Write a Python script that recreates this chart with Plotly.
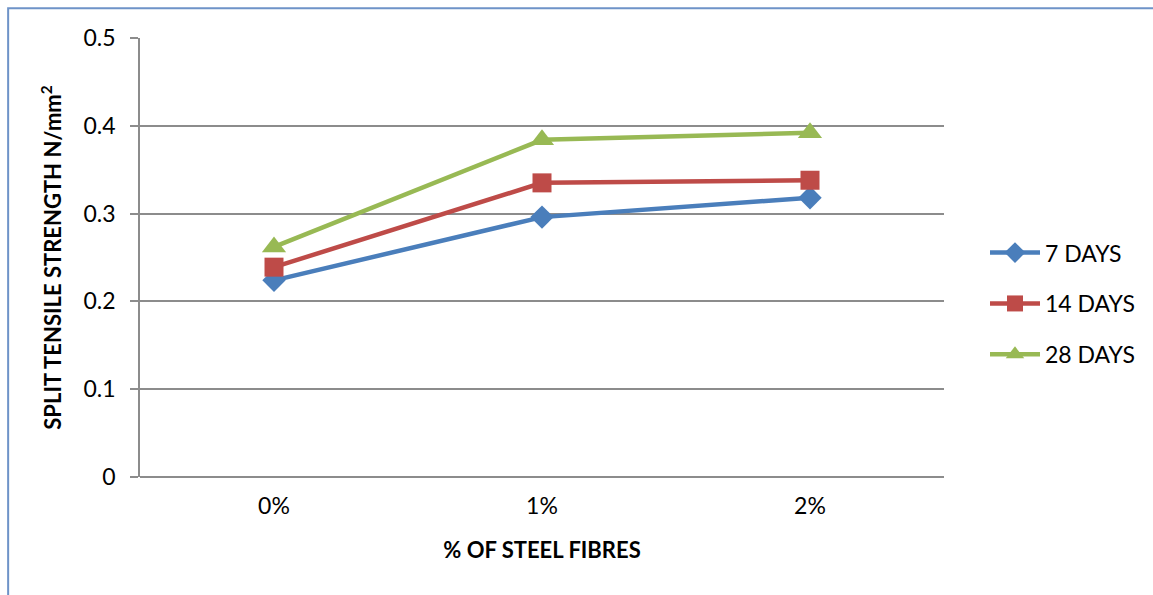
import plotly.graph_objects as go

categories = ["0%", "1%", "2%"]
days_7 = [0.224, 0.296, 0.318]
days_14 = [0.239, 0.335, 0.338]
days_28 = [0.262, 0.384, 0.392]
y_ticks = [0, 0.1, 0.2, 0.3, 0.4, 0.5]
y_tick_text = ["0", "0.1", "0.2", "0.3", "0.4", "0.5"]

FONT = "Lato, 'Open Sans', sans-serif"
GRID = "#8c8c8c"

series = [
    ("7 DAYS", days_7, "#4A7EBB", "diamond", 18),
    ("14 DAYS", days_14, "#BE4B48", "square", 19),
    ("28 DAYS", days_28, "#98B954", "triangle-up", 21),
]

fig = go.Figure()
for name, vals, color, symbol, size in series:
    fig.add_trace(go.Scatter(
        x=categories, y=vals, name=name, mode="lines+markers",
        legendgroup=name,
        line=dict(color=color, width=4.5),
        marker=dict(symbol=symbol, size=size, color=color),
    ))

fig.update_layout(
    width=1153, height=595,
    margin=dict(l=140, r=209, t=38, b=118),
    paper_bgcolor="white", plot_bgcolor="white",
    font=dict(family=FONT, size=23, color="#000000"),
    showlegend=True,
    legend=dict(
        x=1.051, xanchor="left", y=0.395, yanchor="middle",
        font=dict(family=FONT, size=23, color="#000000"),
        tracegroupgap=18, itemwidth=50, bgcolor="rgba(0,0,0,0)",
    ),
    xaxis=dict(
        type="category", range=[-0.5, 2.5],
        showgrid=False, showline=False, ticks="",
        zeroline=False, ticklabelstandoff=13,
        tickfont=dict(family=FONT, size=23),
        title=dict(text="<b>% OF STEEL FIBRES</b>", standoff=24,
                   font=dict(family=FONT, size=22)),
    ),
    yaxis=dict(
        range=[0, 0.5], tickvals=y_ticks, ticktext=y_tick_text,
        showgrid=True, gridcolor=GRID, gridwidth=1.5,
        showline=True, linecolor=GRID, linewidth=1.5,
        ticks="outside", ticklen=8, tickcolor=GRID, tickwidth=1.5,
        zeroline=False, ticklabelstandoff=10,
        tickfont=dict(family=FONT, size=23),
        title=dict(text="<b>SPLIT TENSILE STRENGTH N/mm<sup>2</sup></b>", standoff=16,
                   font=dict(family=FONT, size=22)),
    ),
)

# baseline along the category axis
fig.add_shape(type="line", xref="paper", yref="paper", x0=0, x1=1, y0=0, y1=0,
              line=dict(color=GRID, width=2))

# outer chart border
fig.add_shape(type="rect", xref="paper", yref="paper",
              x0=-0.164, x1=1.4, y0=-0.4, y1=1.068,
              line=dict(color="#6E93C8", width=2), layer="below")

fig.write_html("out.html")
